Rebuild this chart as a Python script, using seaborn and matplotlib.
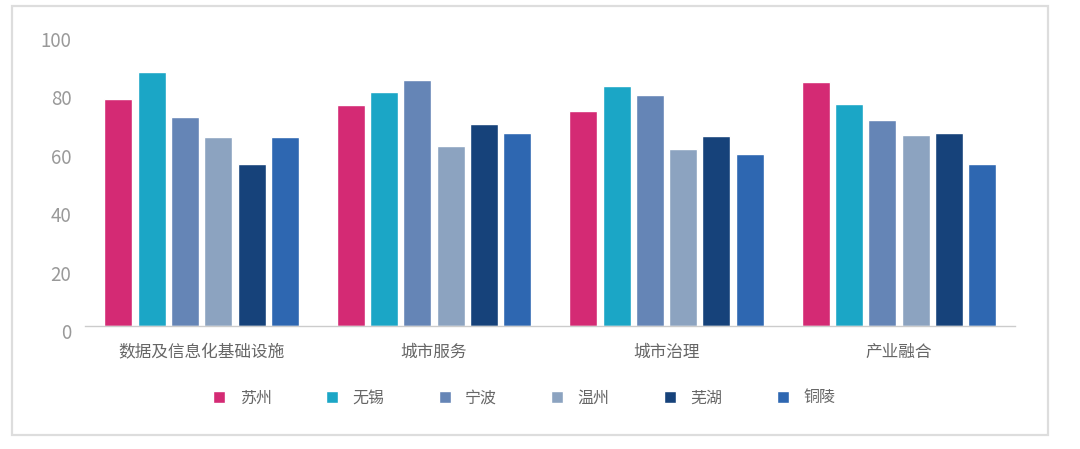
import pandas as pd
import matplotlib.pyplot as plt
import matplotlib.transforms as mtransforms
import seaborn as sns
from matplotlib.patches import Rectangle

# Data
categories = ['数据及信息化基础设施', '城市服务', '城市治理', '产业融合']
cities = ['苏州', '无锡', '宁波', '温州', '芜湖', '铜陵']
suzhou = [77.5, 75.5, 73.5, 83.5]
wuxi = [87, 80, 82, 76]
ningbo = [71.5, 84, 79, 70.5]
wenzhou = [64.5, 61.5, 60.5, 65.5]
wuhu = [55.5, 69, 65, 66]
tongling = [64.5, 66, 59, 55.5]
colors = ['#D42A74', '#1BA6C6', '#6585B6', '#8CA3C0', '#16427A', '#2E67B1']

values = [suzhou, wuxi, ningbo, wenzhou, wuhu, tongling]
rows = []
for city, vals in zip(cities, values):
    for cat, v in zip(categories, vals):
        rows.append({'category': cat, 'city': city, 'score': v})
df = pd.DataFrame(rows)

sns.set_style('white')
plt.rcParams['font.family'] = ['Noto Sans CJK SC', 'DejaVu Sans']

fig = plt.figure(figsize=(10.8, 4.49), dpi=100)
ax = fig.add_axes([0.079, 0.274, 0.861, 0.651])

sns.barplot(data=df, x='category', y='score', hue='city', hue_order=cities,
            palette=colors, width=0.86, gap=0.16, saturation=1, ax=ax)

ax.set_ylim(0, 100)
ax.set_xlim(-0.5, 3.5)
ax.set_yticks([0, 20, 40, 60, 80, 100])
ax.set_xlabel('')
ax.set_ylabel('')
ax.tick_params(axis='y', length=0, labelsize=13.5, labelcolor='#999999', pad=10)
ax.tick_params(axis='x', which='major', length=0, labelsize=12, labelcolor='#666666', pad=13)
ax.set_xticks([-0.5, 0.5, 1.5, 2.5, 3.5], minor=True)
ax.tick_params(axis='x', which='minor', length=5, color='#cccccc', width=1, direction='out')

# y labels sit a little below their values in the reference
shift = mtransforms.ScaledTranslation(0, -5 / 100, fig.dpi_scale_trans)
for lbl in ax.get_yticklabels():
    lbl.set_fontweight('light')
    lbl.set_transform(lbl.get_transform() + shift)

for side in ['top', 'right', 'left']:
    ax.spines[side].set_visible(False)
ax.spines['bottom'].set_color('#cccccc')
ax.spines['bottom'].set_linewidth(1)

handles, labels = ax.get_legend_handles_labels()
ax.legend(handles, labels, loc='center', bbox_to_anchor=(0.472, -0.246), ncol=6,
          frameon=False, fontsize=11.5, labelcolor='#666666', handlelength=0.75,
          handleheight=0.75, handletextpad=0.9, columnspacing=3.4)

# light outer frame
fig.patches.append(Rectangle((12 / 1080, 1 - 435 / 449), 1036 / 1080, 429 / 449,
                             transform=fig.transFigure, fill=False,
                             edgecolor='#dddddd', linewidth=1.6))

fig.savefig('out.png', dpi=100)
